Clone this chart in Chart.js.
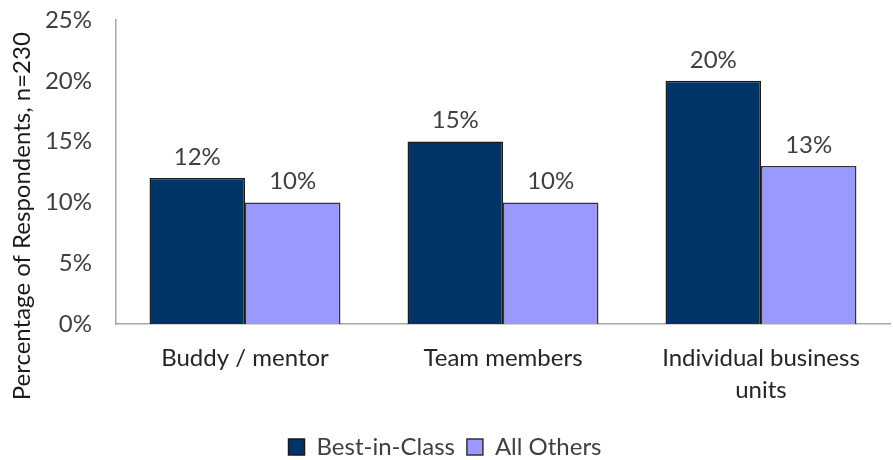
<!DOCTYPE html>
<html>
<head>
<meta charset="utf-8">
<script src="https://cdn.jsdelivr.net/npm/chart.js@4.4.1/dist/chart.umd.min.js"></script>
<style>
  html, body { margin: 0; padding: 0; background: #fff; }
  #wrap { width: 893px; height: 460px; }
</style>
</head>
<body>
<div id="wrap"><canvas id="chart" width="893" height="460"></canvas></div>
<script>
// chart data
const categories = [['Buddy / mentor'], ['Team members'], ['Individual business', 'units']];
const bestInClass = [12, 15, 20];
const allOthers = [10, 10, 13];
const yTicks = [0, 5, 10, 15, 20, 25];
const yTitle = 'Percentage of Respondents, n=230';

const FONT = "Lato, 'Open Sans', sans-serif";
const TEXT = '#404040';
const SIZE = 24;

// draws the % label above every bar, plus the rotated axis title
const valueLabels = {
    id: 'valueLabels',
    afterDatasetsDraw(chart) {
        const ctx = chart.ctx;
        ctx.save();
        ctx.font = SIZE + 'px ' + FONT;
        ctx.fillStyle = TEXT;
        ctx.textAlign = 'center';
        ctx.textBaseline = 'bottom';
        chart.data.datasets.forEach((ds, i) => {
            chart.getDatasetMeta(i).data.forEach((bar, j) => {
                ctx.fillText(ds.data[j] + '%', bar.x, bar.y - 9);
            });
        });

        // axis title, centred on the whole canvas height like the original
        ctx.fillStyle = '#1a1a1a';
        ctx.textBaseline = 'middle';
        ctx.translate(22, chart.height * 0.47);
        ctx.rotate(-Math.PI / 2);
        ctx.fillText(yTitle, 0, 0);
        ctx.restore();
    }
};

new Chart(document.getElementById('chart'), {
    type: 'bar',
    data: {
        labels: categories,
        datasets: [
            {
                label: 'Best-in-Class',
                data: bestInClass,
                backgroundColor: '#003366',
                borderColor: '#1a1a1a',
                borderWidth: 1.5
            },
            {
                label: 'All Others',
                data: allOthers,
                backgroundColor: '#9999ff',
                borderColor: '#333333',
                borderWidth: 1.5
            }
        ]
    },
    options: {
        responsive: false,
        animation: false,
        devicePixelRatio: 1,
        layout: { padding: { top: 20, right: 3, left: 0, bottom: -9 } },
        datasets: {
            bar: { categoryPercentage: 0.74, barPercentage: 1.0 }
        },
        plugins: {
            legend: {
                position: 'bottom',
                labels: {
                    color: TEXT,
                    font: { family: FONT, size: SIZE },
                    boxWidth: 16,
                    boxHeight: 16,
                    padding: 12
                }
            },
            tooltip: { enabled: false }
        },
        scales: {
            y: {
                min: 0,
                max: 25,
                afterBuildTicks(scale) {
                    scale.ticks = yTicks.map(v => ({ value: v }));
                },
                afterFit(scale) {
                    scale.width = 116;
                    scale.paddingTop = 0;
                    scale.paddingBottom = 0;
                },
                grid: { display: false, drawTicks: false },
                border: { display: true, color: '#a6a6a6', width: 1.5 },
                ticks: {
                    color: TEXT,
                    padding: 24,
                    font: { family: FONT, size: SIZE },
                    callback: v => v + '%'
                }
            },
            x: {
                afterFit(scale) {
                    scale.height = 99;
                    scale.paddingLeft = 0;
                    scale.paddingRight = 0;
                },
                grid: { display: false, drawTicks: false },
                border: { display: true, color: '#a6a6a6', width: 1.5 },
                ticks: {
                    color: '#262626',
                    padding: 18,
                    font: { family: FONT, size: SIZE, lineHeight: 1.35 }
                }
            }
        }
    },
    plugins: [valueLabels]
});
</script>
</body>
</html>
